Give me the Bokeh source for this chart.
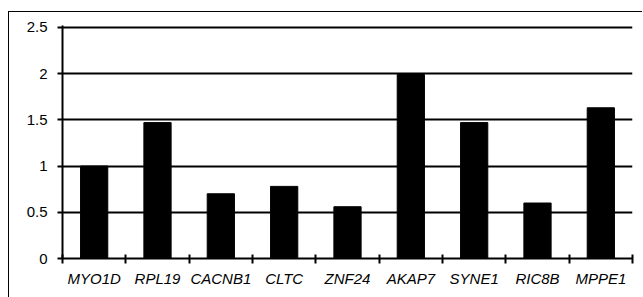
from bokeh.plotting import figure
from bokeh.models import FixedTicker, Range1d
from bokeh.embed import file_html
from bokeh.resources import INLINE

genes = ["MYO1D", "RPL19", "CACNB1", "CLTC", "ZNF24", "AKAP7", "SYNE1", "RIC8B", "MPPE1"]
values = [1.0, 1.47, 0.70, 0.78, 0.56, 1.99, 1.47, 0.60, 1.63]
y_ticks = [0, 0.5, 1, 1.5, 2, 2.5]
y_labels = ["0", "0.5", "1", "1.5", "2", "2.5"]

centers = [i + 0.5 for i in range(len(genes))]
bounds = list(range(len(genes) + 1))

p = figure(width=634, height=286, output_backend="svg", toolbar_location=None, title=None,
           x_range=Range1d(0, len(genes)), y_range=Range1d(0, 2.52),
           min_border_left=53, min_border_right=11, min_border_top=13, min_border_bottom=40)
p.styles = {"border-top": "1px solid black", "border-left": "1px solid black"}
p.margin = (11, 0, 0, 8)
p.outline_line_color = None
p.background_fill_color = "white"
p.border_fill_color = "white"

# horizontal gridlines at every y tick
p.hspan(y=y_ticks[1:], line_color="black", line_width=2)

p.vbar(x=centers, top=values, width=0.43, bottom=0, fill_color="black", line_color="black")

# y axis
p.yaxis.ticker = FixedTicker(ticks=y_ticks)
p.yaxis.major_label_overrides = {t: l for t, l in zip(y_ticks, y_labels)}
p.yaxis.axis_line_color = "black"
p.yaxis.axis_line_width = 2
p.yaxis.major_tick_line_width = 2
p.yaxis.major_tick_in = 0
p.yaxis.major_tick_out = 5
p.yaxis.minor_tick_line_color = None
p.yaxis.major_label_text_font = "Liberation Sans"
p.yaxis.major_label_text_font_size = "15px"
p.yaxis.major_label_text_color = "black"
p.yaxis.major_label_standoff = 10

# x axis: labels at centers, ticks at boundaries (as minor ticks)
p.xaxis.ticker = FixedTicker(ticks=centers, minor_ticks=bounds)
p.xaxis.major_label_overrides = {c: g for c, g in zip(centers, genes)}
p.xaxis.major_tick_line_color = None
p.xaxis.minor_tick_line_color = "black"
p.xaxis.minor_tick_line_width = 2
p.xaxis.minor_tick_in = 4
p.xaxis.minor_tick_out = 5
p.xaxis.axis_line_color = "black"
p.xaxis.axis_line_width = 2
p.xaxis.major_label_text_font = "Liberation Sans"
p.xaxis.major_label_text_font_style = "italic"
p.xaxis.major_label_text_font_size = "15px"
p.xaxis.major_label_text_color = "black"
p.xaxis.major_label_standoff = 5

p.xgrid.grid_line_color = None
p.ygrid.grid_line_color = None

open("out.html", "w").write(file_html(p, INLINE))
